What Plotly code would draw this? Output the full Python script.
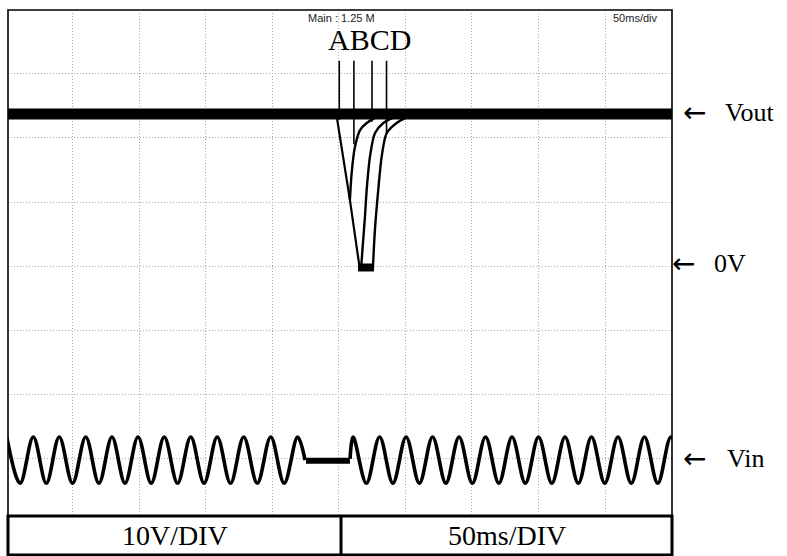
import plotly.graph_objects as go

# ---------------- data (time in ms, voltage in V; 10 V/div, 50 ms/div) ----------------
t_range = [1.4, 500.3]
v_range = [-38.9, 39.9]

# Vout steady level (thick noisy band)
vout_t = [1.4, 500.3]
vout_v = [23.7, 23.7]

# common fall of Vout during the input drop-out (curve A)
fall_t = [248.4, 258.3, 265.3]
fall_v = [23.3, 10.3, 0.2]

# recovery curves
recB_t = [258.3, 259.6, 262.1, 265.9, 270.9, 277.1, 284.6]
recB_v = [10.3, 14.5, 18.6, 21.2, 22.3, 23.1, 23.7]
recC_t = [266.8, 269.6, 270.9, 273.4, 277.1, 283.4, 295.9]
recC_v = [0.0, 7.7, 11.9, 17.1, 20.7, 22.3, 23.6]
recD_t = [275.6, 277.1, 279.6, 282.2, 285.9, 293.4, 304.9]
recD_v = [-0.1, 5.7, 11.9, 17.1, 20.7, 22.3, 23.6]

# bottom blob at 0 V
bottom_t = [264.4, 276.4]
bottom_v = [-0.2, -0.2]

# A-B-C-D marker lines
marker_labels = ["A", "B", "C", "D"]
marker_t = [250.3, 261.3, 274.9, 285.8]
marker_top = 32.0
marker_bottom = [22.8, 19.0, 22.5, 20.5]

# Vin (50 Hz sine around -30 V): extrema times
vin_peak = -26.6
vin_trough = -33.8
vin_center = -30.2
vin_pre_ext_t = [0.5, 10.5, 20.4, 30.2, 39.9, 49.9, 59.8, 69.7, 79.5, 89.3, 99.1, 109.0,
                 118.8, 128.8, 138.7, 148.7, 158.6, 168.6, 178.5, 188.7, 198.8, 208.9, 219.0]
vin_pre_end = [224.6, vin_center]
vin_flat_t = [225.3, 258.3]
vin_flat_v = [-30.3, -30.3]
vin_post_start = [258.4, -30.0]
vin_post_ext_t = [260.8, 270.7, 280.6, 290.6, 300.5, 310.5, 320.4, 330.4, 340.3, 350.3,
                  360.2, 370.2, 380.1, 390.1, 400.0, 410.0, 419.9, 429.9, 439.8, 449.8,
                  459.7, 469.7, 479.6, 489.6, 499.5, 509.5, 519.4]

# ---------------- build ----------------
def alternate(times, first_is_peak=True):
    vals = []
    for i, _ in enumerate(times):
        is_peak = (i % 2 == 0) == first_is_peak
        vals.append(vin_peak if is_peak else vin_trough)
    return vals

vin1_t = vin_pre_ext_t + [vin_pre_end[0]]
vin1_v = alternate(vin_pre_ext_t) + [vin_pre_end[1]]
vin2_t = [vin_post_start[0]] + vin_post_ext_t
vin2_v = [vin_post_start[1]] + alternate(vin_post_ext_t)

fig = go.Figure()
K = "black"
fig.add_trace(go.Scatter(x=vout_t, y=vout_v, mode="lines", line=dict(color=K, width=11)))
fig.add_trace(go.Scatter(x=fall_t, y=fall_v, mode="lines", line=dict(color=K, width=2.2)))
for tt, vv in [(recB_t, recB_v), (recC_t, recC_v), (recD_t, recD_v)]:
    fig.add_trace(go.Scatter(x=tt, y=vv, mode="lines",
                             line=dict(color=K, width=2.4, shape="spline", smoothing=0.8)))
fig.add_trace(go.Scatter(x=bottom_t, y=bottom_v, mode="lines", line=dict(color=K, width=8)))

mx, my = [], []
for t, b in zip(marker_t, marker_bottom):
    mx += [t, t, None]
    my += [marker_top, b, None]
fig.add_trace(go.Scatter(x=mx, y=my, mode="lines", line=dict(color=K, width=1.6)))

fig.add_trace(go.Scatter(x=vin1_t, y=vin1_v, mode="lines",
                         line=dict(color=K, width=3.6, shape="spline", smoothing=1.0)))
fig.add_trace(go.Scatter(x=vin_flat_t, y=vin_flat_v, mode="lines", line=dict(color=K, width=6)))
fig.add_trace(go.Scatter(x=vin2_t, y=vin2_v, mode="lines",
                         line=dict(color=K, width=3.6, shape="spline", smoothing=1.0)))

grid = dict(showgrid=True, gridcolor="#a8a8a8", griddash="1px,2px", gridwidth=1,
            zeroline=False, showline=False, showticklabels=False, ticks="")
fig.update_xaxes(range=t_range, tick0=0, dtick=50, **grid)
fig.update_yaxes(range=v_range, tick0=0, dtick=10, **grid)

L, R, T, B = 8, 115, 10, 40
W, H = 787, 556
pw, ph = W - L - R, H - T - B

def px(x):
    return (x - L) / pw

def py(y):
    return (H - B - y) / ph

serif = "Liberation Serif, Times New Roman, serif"
narrow = "Liberation Sans Narrow, Arial Narrow, sans-serif"
arrowfont = "DejaVu Sans, sans-serif"

fig.update_layout(
    width=W, height=H, margin=dict(l=L, r=R, t=T, b=B),
    paper_bgcolor="white", plot_bgcolor="white", showlegend=False,
    shapes=[
        dict(type="rect", xref="paper", yref="paper", x0=0, x1=1, y0=0, y1=1,
             line=dict(color=K, width=1.6), layer="above"),
        dict(type="rect", xref="paper", yref="paper", x0=0, x1=1, y0=py(555), y1=0,
             line=dict(color=K, width=3), layer="above"),
        dict(type="line", xref="paper", yref="paper", x0=px(341), x1=px(341), y0=py(555), y1=0,
             line=dict(color=K, width=3), layer="above"),
    ],
)

ann = []
ann.append(dict(x=sum(marker_t) / 4 + 4.8, y=35.3, xref="x", yref="y", text="".join(marker_labels),
                showarrow=False, font=dict(family=serif, size=30, color=K),
                xanchor="center", yanchor="middle"))
ann.append(dict(x=px(341), y=py(18), xref="paper", yref="paper", text="Main : 1.25 M",
                showarrow=False, font=dict(family=narrow, size=11, color="#222"),
                xanchor="center", yanchor="middle"))
ann.append(dict(x=px(635), y=py(18), xref="paper", yref="paper", text="50ms/div",
                showarrow=False, font=dict(family=narrow, size=11, color="#222"),
                xanchor="center", yanchor="middle"))
for tip, lab_x, yv, lab in [(681, 723, 23.9, "Vout"), (670, 712, 0.5, "0V"), (681, 725, -29.9, "Vin")]:
    ann.append(dict(x=px(tip), y=yv, xref="paper", yref="y", text="←", showarrow=False,
                    font=dict(family=arrowfont, size=28, color=K), xanchor="left", yanchor="middle"))
    ann.append(dict(x=px(lab_x), y=yv, xref="paper", yref="y", text=lab, showarrow=False,
                    font=dict(family=serif, size=26, color=K), xanchor="left", yanchor="middle"))
ann.append(dict(x=px(174.5), y=py(535.5), xref="paper", yref="paper", text="10V/DIV",
                showarrow=False, font=dict(family=serif, size=28, color=K),
                xanchor="center", yanchor="middle"))
ann.append(dict(x=px(506.5), y=py(535.5), xref="paper", yref="paper", text="50ms/DIV",
                showarrow=False, font=dict(family=serif, size=28, color=K),
                xanchor="center", yanchor="middle"))
fig.update_layout(annotations=ann)

fig.write_html("out.html")
